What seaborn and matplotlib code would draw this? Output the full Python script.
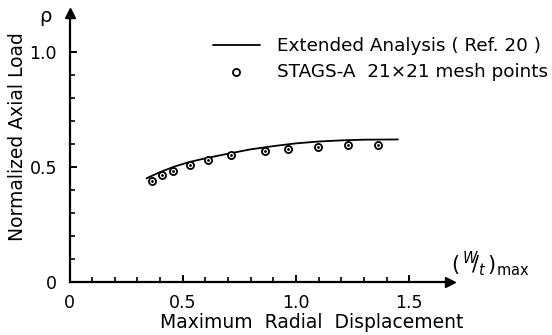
import numpy as np
import pandas as pd
import matplotlib
matplotlib.use("Agg")
import matplotlib.pyplot as plt
import seaborn as sns
from matplotlib.ticker import FixedLocator

# ---- data ----
line_x = [0.34, 0.40, 0.46, 0.53, 0.60, 0.70, 0.80, 0.90, 1.00, 1.10, 1.20, 1.30, 1.45]
line_y = [0.451, 0.478, 0.501, 0.522, 0.538, 0.558, 0.577, 0.591, 0.603, 0.611, 0.616, 0.619, 0.620]
stags_x = [0.364, 0.409, 0.459, 0.530, 0.613, 0.711, 0.862, 0.963, 1.096, 1.230, 1.363]
stags_y = [0.439, 0.464, 0.484, 0.507, 0.530, 0.551, 0.571, 0.579, 0.588, 0.596, 0.594]
x_ticks = [0, 0.5, 1.0, 1.5]
x_ticklabels = ["0", "0.5", "1.0", "1.5"]
y_ticks = [0, 0.5, 1.0]
y_ticklabels = ["0", "0.5", "1.0"]
label_line = "Extended Analysis ( Ref. 20 )"
label_pts = "STAGS-A  21\u00d721 mesh points"

sns.set_theme(style="white")
plt.rcParams['font.family'] = ['DejaVu Sans']
plt.rcParams['mathtext.fontset'] = 'dejavusans'
plt.rcParams['text.color'] = 'black'
plt.rcParams['axes.labelcolor'] = 'black'
plt.rcParams['xtick.color'] = 'black'
plt.rcParams['ytick.color'] = 'black'

W, H = 552, 335
fig = plt.figure(figsize=(W / 100, H / 100), dpi=100)
ax = fig.add_axes([69.5 / W, 53 / H, (450 - 69.5) / W, (282 - 13) / H])

df_line = pd.DataFrame({"x": line_x, "y": line_y})
df_pts = pd.DataFrame({"x": stags_x, "y": stags_y})

sns.lineplot(data=df_line, x="x", y="y", ax=ax, color="black", lw=1.3,
             label=label_line, sort=False)
sns.scatterplot(data=df_pts, x="x", y="y", ax=ax, s=26, marker="o",
                facecolor="white", edgecolor="black", linewidth=1.3,
                label=label_pts, zorder=3)
sns.scatterplot(data=df_pts, x="x", y="y", ax=ax, s=4, marker="o",
                color="black", linewidth=0, zorder=4, legend=False)

ax.set_xlim(0, 1.68)
ax.set_ylim(0, 1.17)
ax.set_xlabel("")
ax.set_ylabel("")

for s in ["top", "right"]:
    ax.spines[s].set_visible(False)
for s in ["left", "bottom"]:
    ax.spines[s].set_linewidth(1.6)
    ax.spines[s].set_color("black")

ax.xaxis.set_major_locator(FixedLocator(x_ticks))
ax.yaxis.set_major_locator(FixedLocator(y_ticks))
ax.xaxis.set_minor_locator(FixedLocator(np.arange(0.1, 1.51, 0.1)))
ax.yaxis.set_minor_locator(FixedLocator(np.arange(0.1, 1.01, 0.1)))
ax.set_xticklabels(x_ticklabels)
ax.set_yticklabels(y_ticklabels)
ax.tick_params(which="major", direction="in", length=5, width=1.4, colors="black",
               labelsize=12.5, pad=9, bottom=True, left=True)
ax.tick_params(which="minor", direction="in", length=3.5, width=1.2, colors="black",
               bottom=True, left=True)

# axis arrows
ax.plot(1, 0, ">", color="black", ms=7, transform=ax.get_yaxis_transform(), clip_on=False)
ax.plot(0, 1, "^", color="black", ms=7, transform=ax.get_xaxis_transform(), clip_on=False)

# legend
leg = ax.legend(loc="upper left", bbox_to_anchor=(213 / W, 1 - 37 / H),
                bbox_transform=fig.transFigure, frameon=False, fontsize=13.2,
                handlelength=2.55, handletextpad=0.95, labelspacing=0.45,
                borderpad=0, borderaxespad=0)
for t in leg.get_texts():
    t.set_color("black")

# texts
fig.text(17.5 / W, 1 - 137 / H, "Normalized Axial Load", rotation=90,
         ha="center", va="center", fontsize=13.5, color="black")
fig.text(312 / W, 1 - 322 / H, "Maximum  Radial  Displacement",
         ha="center", va="center", fontsize=13.5, color="black")
fig.text(45 / W, 1 - 17 / H, "\u03c1", ha="center", va="center", fontsize=14,
         color="black")
fig.text(490 / W, 1 - 264 / H, r"$(\,^{W}\!\!/_{t}\,)_{\mathrm{max}}$",
         ha="center", va="center", fontsize=15, color="black")

fig.savefig("out.png", dpi=100)
